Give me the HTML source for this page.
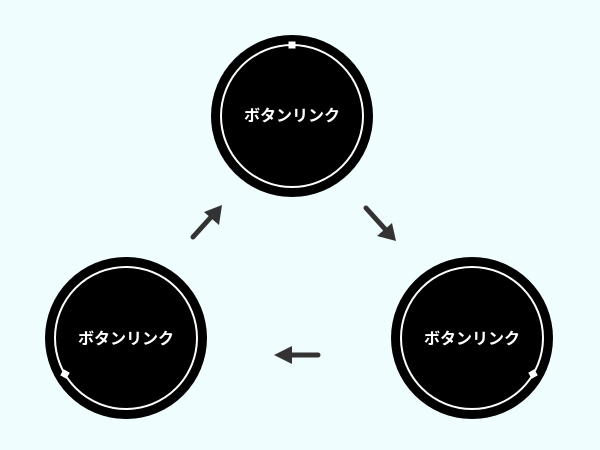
<!DOCTYPE html>
<html><head><meta charset="utf-8"><style>
html,body{margin:0;padding:0;background:#f0fdff;}
svg{display:block}
text{font-family:"Liberation Sans","Noto Sans CJK JP",sans-serif;font-weight:bold;font-size:16px;fill:#fff}
</style></head><body>
<svg width="600" height="450" viewBox="0 0 600 450">
<rect width="600" height="450" fill="#f0fdff"/>
<g>
<circle cx="292" cy="116" r="81" fill="#000"/>
<circle cx="292" cy="116" r="71" fill="none" stroke="#fff" stroke-width="2"/>
<rect x="288.5" y="41.5" width="7" height="7" fill="#fff"/>
<text x="292" y="121" text-anchor="middle">ボタンリンク</text>
</g>
<g>
<circle cx="126" cy="338" r="81" fill="#000"/>
<circle cx="126" cy="338" r="71" fill="none" stroke="#fff" stroke-width="2"/>
<rect x="61.5" y="370.5" width="7" height="7" fill="#fff" transform="rotate(30 65 374)"/>
<text x="126" y="344" text-anchor="middle">ボタンリンク</text>
</g>
<g>
<circle cx="472" cy="338" r="81" fill="#000"/>
<circle cx="472" cy="338" r="71" fill="none" stroke="#fff" stroke-width="2"/>
<rect x="529.5" y="370.5" width="7" height="7" fill="#fff" transform="rotate(-30 533 374)"/>
<text x="472" y="344" text-anchor="middle">ボタンリンク</text>
</g>
<g stroke="#333" stroke-width="5" stroke-linecap="round" fill="#333">
<line x1="193" y1="237" x2="212" y2="216"/>
<line x1="366" y1="208" x2="385" y2="229"/>
<line x1="318" y1="355" x2="290" y2="355"/>
</g>
<g fill="#333">
<polygon points="222,205 219,225 204,212"/>
<polygon points="396,241 377,236 392,223"/>
<polygon points="274,355 292,346 292,364"/>
</g>
</svg>
</body></html>
